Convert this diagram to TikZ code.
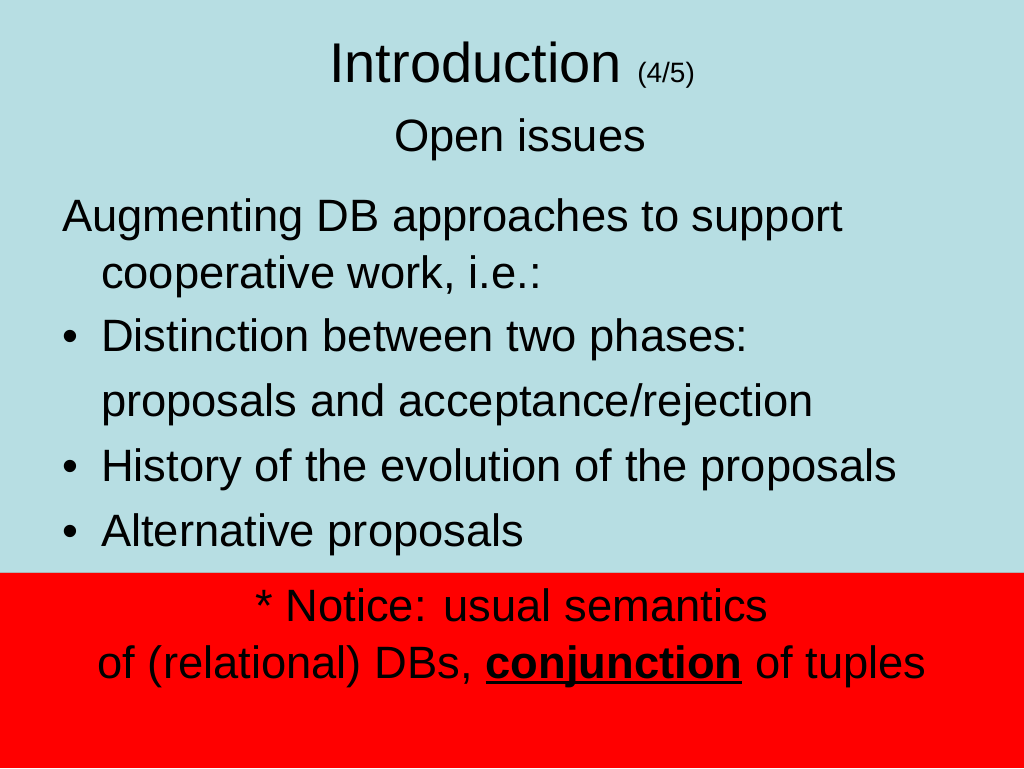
\documentclass[tikz,border=0pt]{standalone}
\usepackage{fontspec}
\setmainfont{Liberation Sans}
\definecolor{slidebg}{RGB}{183,222,227}
\definecolor{boxred}{RGB}{255,0,0}
\newcommand\myul[1]{\setbox0\hbox{#1}\rlap{\rule[-4.5pt]{\wd0}{2.25pt}}\box0\relax}
\begin{document}
\begin{tikzpicture}[x=0.75pt,y=-0.75pt,
  txt/.style={inner sep=0pt,outer sep=0pt,font=\fontsize{34}{40}\selectfont,anchor=base west},
  ctxt/.style={txt,anchor=base}]
\useasboundingbox (0,0) rectangle (1024,768);
\fill[slidebg] (0,0) rectangle (1024,768);
\fill[boxred] (0,572) rectangle (1024,768);
\draw[gray!60,line width=0.75pt] (0,572) -- (1024,572);
% title
\node[ctxt,font=\fontsize{42}{48}\selectfont] (title) at (512,82) {Introduction {\fontsize{21}{24}\selectfont(4/5)}};
\node[ctxt] (sub) at (520,151) {Open issues};
% body
\node[txt] (l1) at (62,231) {Augmenting DB approaches to support};
\node[txt] (l2) at (101,288) {cooperative work, i.e.:};
\node[txt] (b1) at (62,351) {•};
\node[txt] (l3) at (101,351) {Distinction between two phases:};
\node[txt] (l4) at (101,416) {proposals and acceptance/rejection};
\node[txt] (b2) at (62,481) {•};
\node[txt] (l5) at (101,481) {History of the evolution of the proposals};
\node[txt] (b3) at (62,546) {•};
\node[txt] (l6) at (101,546) {Alternative proposals};
% notice
\node[ctxt] (n1) at (512,621) {* Notice: usual semantics};
\node[ctxt] (n2) at (512,678) {of (relational) DBs, \myul{\bfseries conjunction} of tuples};
\end{tikzpicture}
\end{document}
